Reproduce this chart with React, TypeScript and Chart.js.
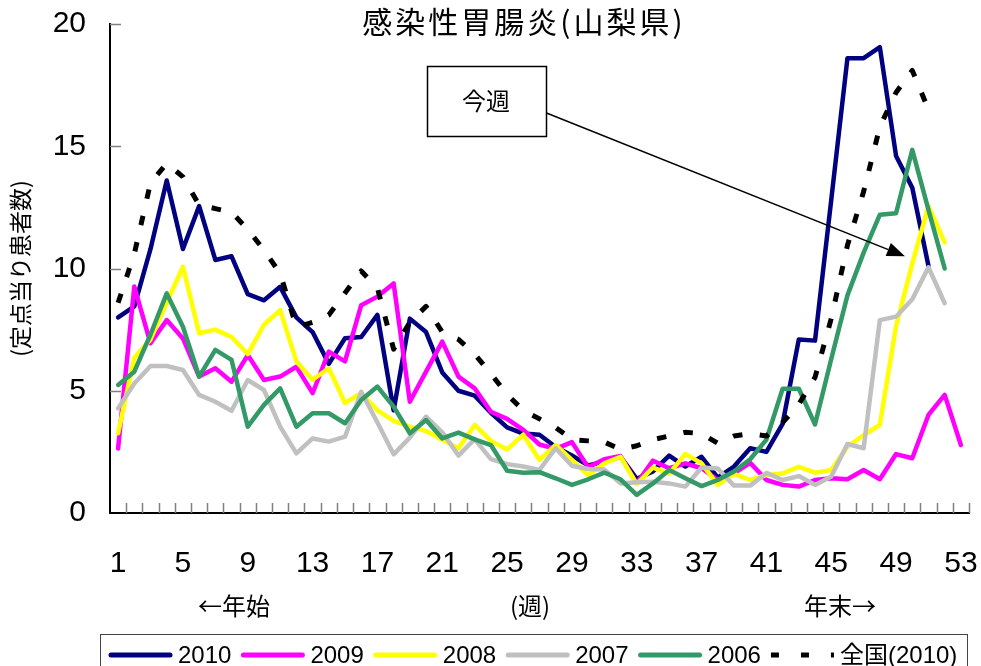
import React, { useEffect, useRef } from 'react';
import { Chart, registerables } from 'chart.js';

Chart.register(...registerables);

const weekLabels = [
  '1', '2', '3', '4', '5', '6', '7', '8', '9', '10',
  '11', '12', '13', '14', '15', '16', '17', '18', '19', '20',
  '21', '22', '23', '24', '25', '26', '27', '28', '29', '30',
  '31', '32', '33', '34', '35', '36', '37', '38', '39', '40',
  '41', '42', '43', '44', '45', '46', '47', '48', '49', '50',
  '51', '52', '53',
];
const shownWeekLabels = ['1', '5', '9', '13', '17', '21', '25', '29', '33', '37', '41', '45', '49', '53'];
const yTickValues = [0, 5, 10, 15, 20];

const series2010 = [
  8.0, 8.45, 10.8, 13.6, 10.8, 12.55, 10.35, 10.5, 8.95, 8.7,
  9.25, 8.0, 7.4, 6.1, 7.15, 7.2, 8.1, 4.2, 7.95, 7.4,
  5.75, 5.0, 4.8, 4.1, 3.5, 3.25, 3.2, 2.7, 2.35, 1.95,
  2.1, 2.3, 1.4, 1.7, 2.35, 1.9, 2.3, 1.45, 1.9, 2.65,
  2.5, 3.65, 7.1, 7.05, 12.8, 18.6, 18.6, 19.05, 14.6, 13.3,
  10.1,
];
const series2009 = [
  2.64, 9.26, 6.94, 7.89, 7.14, 5.58, 5.92, 5.37, 6.46, 5.44,
  5.58, 5.98, 4.9, 6.6, 6.2, 8.5, 8.85, 9.39, 4.55, 5.78,
  7.01, 5.58, 5.1, 4.14, 3.85, 3.4, 2.8, 2.62, 2.9, 1.87,
  2.2, 2.33, 1.21, 2.14, 1.83, 2.03, 1.83, 1.35, 1.62, 2.05,
  1.35, 1.15, 1.08, 1.35, 1.42, 1.38, 1.76, 1.38, 2.41, 2.24,
  4.01, 4.83, 2.78,
];
const series2008 = [
  3.26, 6.35, 7.1, 8.6, 10.07, 7.35, 7.5, 7.2, 6.5, 7.7,
  8.3, 6.2, 5.45, 5.92, 4.5, 4.9, 4.2, 3.77, 3.53, 3.35,
  3.0, 2.65, 3.6, 2.95, 2.6, 3.2, 2.17, 2.78, 2.17, 1.55,
  2.03, 2.3, 1.18, 1.86, 1.61, 2.42, 2.03, 1.15, 1.6, 1.35,
  1.55, 1.62, 1.89, 1.65, 1.76, 2.71, 3.19, 3.6, 7.64, 10.2,
  12.55, 11.07,
];
const series2007 = [
  4.28, 5.3, 6.01, 6.01, 5.85, 4.83, 4.55, 4.18, 5.44, 5.03,
  3.53, 2.44, 3.05, 2.92, 3.12, 4.96, 3.7, 2.4, 3.08, 3.94,
  3.3, 2.35, 3.02, 2.2, 2.0, 1.9, 1.76, 2.65, 1.93, 1.8,
  1.78, 1.21, 1.26, 1.28, 1.21, 1.08, 1.86, 1.82, 1.12, 1.12,
  1.64, 1.35, 1.51, 1.15, 1.49, 2.82, 2.65, 7.89, 8.03, 8.74,
  10.05, 8.58,
];
const series2006 = [
  5.24, 5.78, 7.3, 8.98, 7.62, 5.58, 6.67, 6.26, 3.53, 4.42,
  5.1, 3.53, 4.08, 4.08, 3.67, 4.62, 5.17, 4.35, 3.26, 3.8,
  3.05, 3.29, 3.01, 2.78, 1.73, 1.65, 1.67, 1.42, 1.15, 1.38,
  1.65, 1.38, 0.74, 1.21, 1.76, 1.42, 1.1, 1.35, 1.7, 2.2,
  3.0, 5.08, 5.08, 3.62, 6.3, 8.9, 10.65, 12.2, 12.26, 14.85,
  12.4, 10.0,
];
const seriesNational2010 = [
  8.6, 10.6, 13.5, 14.3, 13.75, 12.6, 12.45, 12.3, 11.6, 10.75,
  9.8, 7.6, 7.8, 8.1, 9.0, 9.9, 9.2, 6.7, 7.8, 8.45,
  7.4, 7.1, 6.5, 5.7, 4.85, 4.2, 3.85, 3.5, 3.0, 2.95,
  2.9, 2.6, 2.75, 3.0, 3.15, 3.3, 3.25, 2.85, 3.15, 3.25,
  3.15, 3.7, 4.45, 5.55, 7.95, 10.95, 13.15, 15.8, 17.2, 18.1,
  16.5,
];

const seriesNames = ['2010', '2009', '2008', '2007', '2006', '全国(2010)'];
const seriesColors = ['#000080', '#FF00FF', '#FFFF00', '#C0C0C0', '#339966', '#000000'];

const chartTitle = '感染性胃腸炎(山梨県)';
const yAxisTitle = '(定点当り患者数)';
const xSubLabels = ['←年始', '(週)', '年末→'];
const calloutText = '今週';

const NUM_FONT = "'Liberation Sans', 'Noto Sans CJK JP', Arial, sans-serif";
const JP_FONT = "'Noto Sans CJK JP', 'Liberation Sans', sans-serif";

const decorPlugin = {
  id: 'decor',
  beforeDraw(chart: any) {
    const { ctx, width, height } = chart;
    ctx.save();
    ctx.fillStyle = '#ffffff';
    ctx.fillRect(0, 0, width, height);
    ctx.restore();
  },
  beforeDatasetsDraw(chart: any) {
    const { ctx, chartArea, scales } = chart;
    const xs = scales.x;
    const ys = scales.y;
    ctx.save();
    ctx.strokeStyle = '#808080';
    ctx.lineWidth = 1.5;
    ctx.beginPath();
    for (let i = 1; i <= weekLabels.length; i++) {
      const px = Math.round(xs.getPixelForValue(i - 0.5)) + 0.5;
      ctx.moveTo(px, chartArea.bottom);
      ctx.lineTo(px, chartArea.bottom - 10);
    }
    yTickValues.forEach((v) => {
      if (v === 0) return;
      const py = Math.round(ys.getPixelForValue(v)) + 0.5;
      ctx.moveTo(chartArea.left, py);
      ctx.lineTo(chartArea.left + 11, py);
    });
    ctx.stroke();
    ctx.restore();
  },
  afterDraw(chart: any) {
    const { ctx, scales } = chart;
    const xs = scales.x;
    const ys = scales.y;
    ctx.save();
    ctx.fillStyle = '#000';
    ctx.textBaseline = 'middle';

    // title
    ctx.font = `30px ${JP_FONT}`;
    ctx.textAlign = 'center';
    try { (ctx as any).letterSpacing = '3px'; } catch (e) {}
    ctx.fillText(chartTitle, 524, 22);
    try { (ctx as any).letterSpacing = '0px'; } catch (e) {}

    // sub labels under x axis
    ctx.font = `24px ${JP_FONT}`;
    ctx.fillText(xSubLabels[0], 234, 606);
    ctx.fillText(xSubLabels[1], 530, 606);
    ctx.fillText(xSubLabels[2], 840, 606);

    // callout box
    ctx.lineWidth = 1.5;
    ctx.strokeStyle = '#000';
    ctx.fillStyle = '#fff';
    ctx.fillRect(427, 66, 119, 70);
    ctx.strokeRect(427.5, 66.5, 119, 70);
    ctx.fillStyle = '#000';
    ctx.font = `24px ${JP_FONT}`;
    ctx.fillText(calloutText, 486, 101);

    // arrow to current week
    const sx = 546.5;
    const sy = 113;
    const ex = xs.getPixelForValue(48.55);
    const ey = ys.getPixelForValue(10.5);
    const ang = Math.atan2(ey - sy, ex - sx);
    const headLen = 18;
    const headHalf = 7;
    const bx = ex - headLen * Math.cos(ang);
    const by = ey - headLen * Math.sin(ang);
    ctx.lineWidth = 1.5;
    ctx.beginPath();
    ctx.moveTo(sx, sy);
    ctx.lineTo(bx, by);
    ctx.stroke();
    ctx.beginPath();
    ctx.moveTo(ex, ey);
    ctx.lineTo(bx + headHalf * Math.sin(ang), by - headHalf * Math.cos(ang));
    ctx.lineTo(bx - headHalf * Math.sin(ang), by + headHalf * Math.cos(ang));
    ctx.closePath();
    ctx.fill();

    // legend
    ctx.lineWidth = 1;
    ctx.strokeStyle = '#444';
    ctx.strokeRect(100.5, 634.5, 867, 60);
    const legendY = 655;
    let lx = 109;
    ctx.font = `24px ${NUM_FONT}`;
    ctx.textAlign = 'left';
    chart.data.datasets.forEach((ds: any) => {
      const dashed = Array.isArray(ds.borderDash) && ds.borderDash.length > 0;
      ctx.strokeStyle = ds.borderColor;
      ctx.lineWidth = 5;
      ctx.lineCap = dashed ? 'butt' : 'round';
      ctx.setLineDash(dashed ? [8, 22] : []);
      ctx.beginPath();
      ctx.moveTo(lx + (dashed ? 0 : 2), legendY);
      ctx.lineTo(lx + (dashed ? 63 : 61), legendY);
      ctx.stroke();
      ctx.setLineDash([]);
      ctx.fillStyle = '#000';
      ctx.fillText(ds.label, lx + 69, legendY + 1);
      lx += 69 + ctx.measureText(ds.label).width + 10;
    });
    ctx.restore();
  },
};

export default function App() {
  const canvasRef = useRef<HTMLCanvasElement | null>(null);

  useEffect(() => {
    if (!canvasRef.current) return;
    const allSeries = [series2010, series2009, series2008, series2007, series2006, seriesNational2010];
    const datasets = allSeries.map((data, i) => {
      const dashed = i === 5;
      return {
        label: seriesNames[i],
        data,
        borderColor: seriesColors[i],
        backgroundColor: seriesColors[i],
        borderWidth: dashed ? 5 : 4.5,
        borderDash: dashed ? [9.5, 17.5] : [],
        borderCapStyle: dashed ? 'butt' : 'round',
        borderJoinStyle: 'round',
        pointRadius: 0,
        pointHoverRadius: 0,
        tension: 0,
        fill: false,
        order: 6 - i,
      };
    });

    const chart = new Chart(canvasRef.current, {
      type: 'line',
      data: { labels: weekLabels, datasets: datasets as any },
      options: {
        responsive: false,
        animation: false,
        devicePixelRatio: 1,
        layout: { padding: { left: 0, right: 12, top: 24, bottom: 0 } },
        plugins: {
          legend: { display: false },
          title: { display: false },
          tooltip: { enabled: false },
        },
        events: [],
        scales: {
          x: {
            type: 'category',
            offset: true,
            grid: { display: false, drawTicks: false, offset: true },
            border: { display: true, color: '#000', width: 2 },
            ticks: {
              autoSkip: false,
              maxRotation: 0,
              minRotation: 0,
              padding: 33,
              color: '#000',
              font: { family: NUM_FONT, size: 30 },
              callback: (_v: any, i: number) =>
                shownWeekLabels.includes(weekLabels[i]) ? weekLabels[i] : '',
            },
            afterFit: (s: any) => {
              s.height = 153;
              s.paddingLeft = 0;
              s.paddingRight = 0;
            },
          },
          y: {
            min: 0,
            max: 20,
            grid: { display: false, drawTicks: false },
            border: { display: true, color: '#000', width: 2 },
            ticks: {
              stepSize: 5,
              padding: 24,
              color: '#000',
              font: { family: NUM_FONT, size: 30 },
            },
            title: {
              display: true,
              text: yAxisTitle,
              color: '#000',
              font: { family: JP_FONT, size: 23 },
              padding: { top: 6, bottom: 0 },
            },
            afterFit: (s: any) => {
              s.width = 110;
              s.paddingTop = 0;
              s.paddingBottom = 0;
            },
          },
        },
      } as any,
      plugins: [decorPlugin],
    });
    return () => chart.destroy();
  }, []);

  return (
    <div style={{ position: 'absolute', left: 0, top: 0, width: 981, height: 666, background: '#fff' }}>
      <canvas ref={canvasRef} width={981} height={666} style={{ display: 'block' }} />
    </div>
  );
}
